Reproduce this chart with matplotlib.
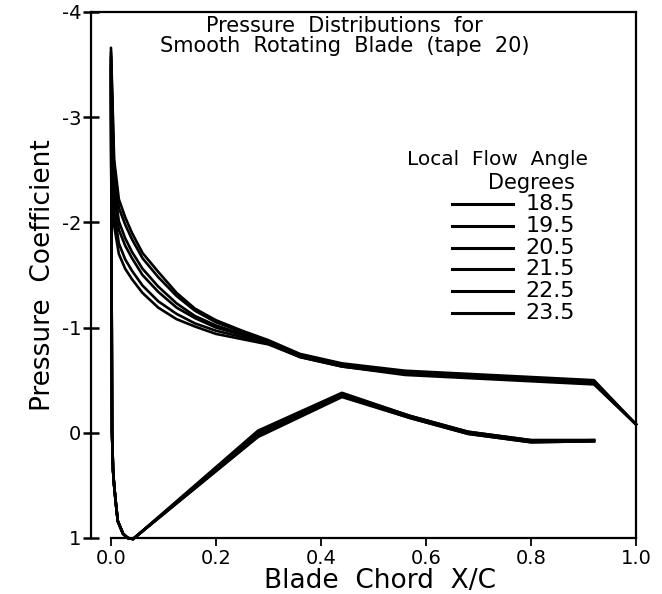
import numpy as np
import matplotlib
matplotlib.use("Agg")
import matplotlib.pyplot as plt

angles = ["18.5", "19.5", "20.5", "21.5", "22.5", "23.5"]

# chordwise stations: pressure side from trailing edge to leading edge, then suction side
x_lower = [0.92, 0.80, 0.68, 0.57, 0.44, 0.28, 0.042, 0.032, 0.023, 0.013, 0.0095, 0.006, 0.004, 0.002]
x_upper = [0.0, 0.006, 0.015, 0.027, 0.04, 0.06, 0.09, 0.125, 0.16, 0.2, 0.25, 0.3, 0.36, 0.44, 0.56, 0.92, 1.0]

cp_lower = [
    [0.08, 0.09, 0.01, -0.14, -0.34, 0.04, 1.01, 1.00, 0.96, 0.84, 0.68, 0.50, 0.36, 0.0],
    [0.08, 0.09, 0.01, -0.14, -0.35, 0.03, 1.01, 1.00, 0.96, 0.84, 0.68, 0.50, 0.36, 0.0],
    [0.08, 0.08, 0.00, -0.15, -0.36, 0.02, 1.01, 1.00, 0.96, 0.84, 0.68, 0.50, 0.36, 0.0],
    [0.07, 0.08, 0.00, -0.15, -0.36, 0.01, 1.01, 1.00, 0.96, 0.84, 0.68, 0.50, 0.36, 0.0],
    [0.07, 0.07, -0.01, -0.16, -0.37, 0.00, 1.01, 1.00, 0.96, 0.84, 0.68, 0.50, 0.36, 0.0],
    [0.07, 0.07, -0.01, -0.16, -0.38, -0.02, 1.01, 1.00, 0.96, 0.84, 0.68, 0.50, 0.36, 0.0],
]
cp_upper = [
    [-3.45, -1.97, -1.70, -1.56, -1.46, -1.33, -1.19, -1.08, -1.01, -0.94, -0.89, -0.84, -0.72, -0.63, -0.55, -0.46, -0.08],
    [-3.50, -2.10, -1.80, -1.65, -1.54, -1.40, -1.25, -1.13, -1.04, -0.97, -0.91, -0.85, -0.72, -0.63, -0.56, -0.47, -0.08],
    [-3.55, -2.25, -1.93, -1.78, -1.66, -1.50, -1.34, -1.19, -1.09, -1.00, -0.93, -0.86, -0.73, -0.64, -0.57, -0.48, -0.08],
    [-3.58, -2.35, -2.01, -1.85, -1.72, -1.56, -1.39, -1.23, -1.11, -1.02, -0.94, -0.86, -0.73, -0.64, -0.57, -0.48, -0.08],
    [-3.62, -2.50, -2.14, -1.98, -1.84, -1.66, -1.48, -1.30, -1.16, -1.05, -0.96, -0.87, -0.74, -0.65, -0.58, -0.49, -0.08],
    [-3.66, -2.60, -2.22, -2.05, -1.90, -1.71, -1.53, -1.33, -1.18, -1.07, -0.97, -0.88, -0.75, -0.66, -0.59, -0.50, -0.08],
]

fig = plt.figure(figsize=(6.62, 5.94), dpi=100)
ax = fig.add_axes([0.1375, 0.0943, 0.9607 - 0.1375, 0.9798 - 0.0943])

for i in range(len(angles)):
    xs = x_lower + x_upper
    ys = cp_lower[i] + cp_upper[i]
    ax.plot(xs, ys, color="black", lw=1.9, clip_on=False, solid_joinstyle="round")

ax.set_xlim(-0.038, 1.0)
ax.set_ylim(1.0, -4.0)

ax.spines["bottom"].set_bounds(0, 1)
for s in ax.spines.values():
    s.set_linewidth(1.6)

ax.set_xticks([0.0, 0.2, 0.4, 0.6, 0.8, 1.0])
ax.set_xticklabels(["0.0", "0.2", "0.4", "0.6", "0.8", "1.0"])
ax.set_yticks([-4, -3, -2, -1, 0, 1])
ax.set_yticklabels(["-4", "-3", "-2", "-1", "0", "1"])
ax.tick_params(axis="x", direction="out", length=6, width=1.3, labelsize=14, pad=2)
ax.tick_params(axis="y", direction="inout", length=12, width=1.8, labelsize=14, pad=1)

ax.set_xlabel("Blade  Chord  X/C", fontsize=19, labelpad=-1)
ax.xaxis.set_label_coords(0.53, -0.058)
ax.set_ylabel("Pressure  Coefficient", fontsize=19, labelpad=4)

ax.text(0.465, 0.993, "Pressure  Distributions  for\nSmooth  Rotating  Blade  (tape  20)",
        transform=ax.transAxes, ha="center", va="top", fontsize=15, linespacing=1.0)

# legend drawn by hand to match the original layout
ax.text(0.745, 0.719, "Local  Flow  Angle", transform=ax.transAxes, ha="center", va="center", fontsize=14.5)
ax.text(0.888, 0.675, "Degrees", transform=ax.transAxes, ha="right", va="center", fontsize=15)
for i, a in enumerate(angles):
    yy = 0.635 - i * 0.0415
    ax.plot([0.662, 0.774], [yy, yy], transform=ax.transAxes, color="black", lw=2.2)
    ax.text(0.888, yy, a, transform=ax.transAxes, ha="right", va="center", fontsize=16)

fig.savefig("out.png", dpi=100)
